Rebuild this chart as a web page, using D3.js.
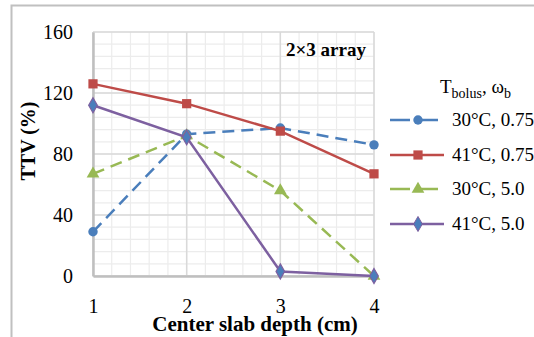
<!DOCTYPE html>
<html>
<head>
<meta charset="utf-8">
<script src="https://cdn.jsdelivr.net/npm/d3@7"></script>
<style>
  body { margin: 0; background: #fff; }
  text { font-family: "Liberation Serif", "Times New Roman", serif; fill: #000; }
</style>
</head>
<body>
<div id="chart-area"></div>
<script>
// data
let depths = [1, 2, 3, 4];
let seriesNames = ["30°C, 0.75", "41°C, 0.75", "30°C, 5.0", "41°C, 5.0"];
let blue = [29, 93, 97, 86];
let red = [126, 113, 95, 67];
let green = [67, 92, 56, 0];
let purple = [112, 91, 3, 0];
let yTicks = [0, 40, 80, 120, 160];

let colors = ["#4a7ebb", "#be4b48", "#98b954", "#7d60a0"];
let dashes = ["12,7", null, "12,7", null];
let symbols = [d3.symbolCircle, d3.symbolSquare, d3.symbolTriangle, d3.symbolDiamond];
let symSizes = [70, 85, 70, 65];
let allSeries = [blue, red, green, purple];

let margin = {left: 93, top: 32};
let width = 281, height = 244;

let svg = d3.select("#chart-area")
    .append("svg")
    .attr("width", 534)
    .attr("height", 337);

// outer chart border (only top/left visible)
svg.append("path")
    .attr("d", "M11.5,337 V5.5 H534")
    .attr("fill", "none")
    .attr("stroke", "#c0c0c0")
    .attr("stroke-width", 2);

let g = svg.append("g")
    .attr("transform", "translate(" + margin.left + "," + margin.top + ")");

let x = d3.scaleLinear().domain([1, 4]).range([0, width]);
let y = d3.scaleLinear().domain([0, 160]).range([height, 0]);

// minor grid
g.append("g").selectAll("line")
    .data(d3.range(1, 4.001, 0.2))
    .enter().append("line")
    .attr("x1", d => x(d)).attr("x2", d => x(d))
    .attr("y1", 0).attr("y2", height)
    .attr("stroke", "#ececec").attr("stroke-width", 1.2);
g.append("g").selectAll("line")
    .data(d3.range(0, 160.001, 8))
    .enter().append("line")
    .attr("x1", 0).attr("x2", width)
    .attr("y1", d => y(d)).attr("y2", d => y(d))
    .attr("stroke", "#ececec").attr("stroke-width", 1.2);

// major grid
g.append("g").selectAll("line")
    .data(depths)
    .enter().append("line")
    .attr("x1", d => x(d)).attr("x2", d => x(d))
    .attr("y1", 0).attr("y2", height)
    .attr("stroke", "#d9d9d9").attr("stroke-width", 1.5);
g.append("g").selectAll("line")
    .data(yTicks)
    .enter().append("line")
    .attr("x1", 0).attr("x2", width)
    .attr("y1", d => y(d)).attr("y2", d => y(d))
    .attr("stroke", "#d9d9d9").attr("stroke-width", 1.5);

// axes
let yAxis = g.append("g")
    .call(d3.axisLeft(y).tickValues(yTicks).tickSize(0).tickPadding(20));
let xAxis = g.append("g")
    .attr("transform", "translate(0," + height + ")")
    .call(d3.axisBottom(x).tickValues(depths).tickFormat(d3.format("d")).tickSize(0).tickPadding(23));
[yAxis, xAxis].forEach(function (a) {
    a.select(".domain").attr("stroke", "#bfbfbf").attr("stroke-width", 2.5);
    a.selectAll("text")
        .attr("font-family", "Liberation Serif")
        .attr("font-size", "20px")
        .attr("fill", "#000");
});

// lines and markers
let line = d3.line()
    .x((d, i) => x(depths[i]))
    .y(d => y(d));

allSeries.forEach(function (vals, s) {
    g.append("path")
        .datum(vals)
        .attr("d", line)
        .attr("fill", "none")
        .attr("stroke", colors[s])
        .attr("stroke-width", 2.5)
        .attr("stroke-dasharray", dashes[s]);
    g.selectAll(".m" + s)
        .data(vals)
        .enter().append("path")
        .attr("class", "m" + s)
        .attr("transform", (d, i) => "translate(" + x(depths[i]) + "," + y(d) + ")")
        .attr("d", d3.symbol().type(symbols[s]).size(symSizes[s]))
        .attr("fill", s === 3 ? "#4a7ebb" : colors[s])
        .attr("stroke", s === 3 ? "#7d60a0" : "none")
        .attr("stroke-width", 1.2);
});

// annotation
svg.append("text")
    .attr("x", 366)
    .attr("y", 56)
    .attr("text-anchor", "end")
    .attr("font-size", "19px")
    .attr("font-weight", "bold")
    .text("2×3 array");

// axis titles
svg.append("text")
    .attr("x", 255)
    .attr("y", 331)
    .attr("text-anchor", "middle")
    .attr("font-size", "21px")
    .attr("font-weight", "bold")
    .text("Center slab depth (cm)");

svg.append("text")
    .attr("transform", "translate(35,141) rotate(-90)")
    .attr("text-anchor", "middle")
    .attr("font-size", "20px")
    .attr("font-weight", "bold")
    .text("TTV (%)");

// legend
let legTitle = svg.append("text")
    .attr("x", 440)
    .attr("y", 93)
    .attr("font-size", "19px");
legTitle.append("tspan").text("T");
legTitle.append("tspan").attr("font-size", "14px").attr("dy", 5).text("bolus");
legTitle.append("tspan").attr("dy", -5).text(", ω");
legTitle.append("tspan").attr("font-size", "14px").attr("dy", 5).text("b");

let legY = [120, 155, 189, 224];
seriesNames.forEach(function (name, s) {
    let lg = svg.append("g").attr("transform", "translate(0," + legY[s] + ")");
    lg.append("line")
        .attr("x1", 390).attr("x2", 444)
        .attr("stroke", colors[s])
        .attr("stroke-width", 2.5)
        .attr("stroke-dasharray", dashes[s] ? "20,8" : null);
    lg.append("path")
        .attr("transform", "translate(418,0)")
        .attr("d", d3.symbol().type(symbols[s]).size(symSizes[s]))
        .attr("fill", s === 3 ? "#4a7ebb" : colors[s])
        .attr("stroke", s === 3 ? "#7d60a0" : "none");
    lg.append("text")
        .attr("x", 452)
        .attr("y", 6)
        .attr("font-size", "19px")
        .text(name);
});
</script>
</body>
</html>
